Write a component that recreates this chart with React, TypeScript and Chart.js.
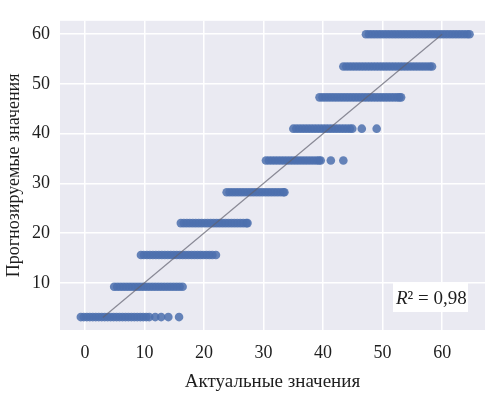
import React, { useEffect, useRef } from 'react';
import { Chart, registerables } from 'chart.js';

Chart.register(...registerables);

// Predicted value levels (one horizontal band each)
const predictedLevels = [3.1, 9.2, 15.6, 22.0, 28.2, 34.6, 41.0, 47.3, 53.5, 60.0];

// Actual values observed for each predicted level
const actualBand0 = [-0.7, -0.2, 0.3, 0.8, 1.3, 1.8, 2.3, 2.8, 3.3, 3.8, 4.3, 4.8, 5.3, 5.8, 6.3, 6.8, 7.3, 7.8, 8.3, 8.8, 9.3, 9.8, 10.3, 10.8, 11.8, 12.8, 14.0, 15.8];
const actualBand1 = [4.9, 5.4, 5.9, 6.4, 6.9, 7.4, 7.9, 8.4, 8.9, 9.4, 9.9, 10.4, 10.9, 11.4, 11.9, 12.4, 12.9, 13.4, 13.9, 14.4, 14.9, 15.4, 15.9, 16.4];
const actualBand2 = [9.4, 9.9, 10.4, 10.9, 11.4, 11.9, 12.4, 12.9, 13.4, 13.9, 14.4, 14.9, 15.4, 15.9, 16.4, 16.9, 17.4, 17.9, 18.4, 18.9, 19.4, 19.9, 20.4, 20.9, 21.4, 22.0];
const actualBand3 = [16.1, 16.6, 17.1, 17.6, 18.1, 18.6, 19.1, 19.6, 20.1, 20.6, 21.1, 21.6, 22.1, 22.6, 23.1, 23.6, 24.1, 24.6, 25.1, 25.6, 26.1, 26.6, 27.1, 27.3];
const actualBand4 = [23.8, 24.3, 24.8, 25.3, 25.8, 26.3, 26.8, 27.3, 27.8, 28.3, 28.8, 29.3, 29.8, 30.3, 30.8, 31.3, 31.8, 32.3, 32.8, 33.3, 33.5];
const actualBand5 = [30.4, 30.9, 31.4, 31.9, 32.4, 32.9, 33.4, 33.9, 34.4, 34.9, 35.4, 35.9, 36.4, 36.9, 37.4, 37.9, 38.4, 38.9, 39.3, 39.6, 41.3, 43.4];
const actualBand6 = [35.0, 35.5, 36.0, 36.5, 37.0, 37.5, 38.0, 38.5, 39.0, 39.5, 40.0, 40.5, 41.0, 41.5, 42.0, 42.5, 43.0, 43.5, 44.0, 44.5, 44.9, 46.5, 49.0];
const actualBand7 = [39.4, 39.9, 40.4, 40.9, 41.4, 41.9, 42.4, 42.9, 43.4, 43.9, 44.4, 44.9, 45.4, 45.9, 46.4, 46.9, 47.4, 47.9, 48.4, 48.9, 49.4, 49.9, 50.4, 50.9, 51.4, 51.9, 52.4, 52.8, 53.1];
const actualBand8 = [43.4, 43.9, 44.4, 44.9, 45.4, 45.9, 46.4, 46.9, 47.4, 47.9, 48.4, 48.9, 49.4, 49.9, 50.4, 50.9, 51.4, 51.9, 52.4, 52.9, 53.4, 53.9, 54.4, 54.9, 55.4, 55.9, 56.4, 56.9, 57.4, 57.9, 58.3];
const actualBand9 = [47.2, 47.7, 48.2, 48.7, 49.2, 49.7, 50.2, 50.7, 51.2, 51.7, 52.2, 52.7, 53.2, 53.7, 54.2, 54.7, 55.2, 55.7, 56.2, 56.7, 57.2, 57.7, 58.2, 58.7, 59.2, 59.7, 60.2, 60.7, 61.2, 61.7, 62.2, 62.7, 63.2, 63.7, 64.2, 64.6];

const actualBands = [
  actualBand0, actualBand1, actualBand2, actualBand3, actualBand4,
  actualBand5, actualBand6, actualBand7, actualBand8, actualBand9,
];

// Ideal diagonal (actual == predicted)
const diagonalEnds = [3, 60];

const xTickValues = [0, 10, 20, 30, 40, 50, 60];
const yTickValues = [10, 20, 30, 40, 50, 60];

const xTitle = 'Актуальные значения';
const yTitle = 'Прогнозируемые значения';
const r2Value = '0,98';

const FONT = '"Liberation Serif", "Times New Roman", serif';
const TEXT_COLOR = '#1e1e1e';

const bgPlugin = {
  id: 'plotBg',
  beforeDraw(chart: any) {
    const { ctx, chartArea: a } = chart;
    ctx.save();
    ctx.fillStyle = '#eaeaf2';
    ctx.fillRect(a.left, a.top, a.right - a.left, a.bottom - a.top);
    ctx.restore();
  },
};

const r2Plugin = {
  id: 'r2Box',
  afterDraw(chart: any) {
    const { ctx, chartArea: a } = chart;
    const bx = a.right - 92;
    const by = a.bottom - 48;
    ctx.save();
    ctx.fillStyle = '#ffffff';
    ctx.fillRect(bx, by, 75, 30);
    ctx.fillStyle = TEXT_COLOR;
    ctx.textBaseline = 'alphabetic';
    ctx.textAlign = 'left';
    ctx.font = `italic 19px ${FONT}`;
    const tx = bx + 3;
    const ty = by + 22;
    ctx.fillText('R', tx, ty);
    const w = ctx.measureText('R').width;
    ctx.font = `19px ${FONT}`;
    ctx.fillText('² = ' + r2Value, tx + w, ty);
    ctx.restore();
  },
};

export default function App() {
  const canvasRef = useRef<HTMLCanvasElement | null>(null);

  useEffect(() => {
    document.body.style.margin = '0';
    const canvas = canvasRef.current;
    if (!canvas) return;

    const points = actualBands.flatMap((xs, i) =>
      xs.map((x) => ({ x, y: predictedLevels[i] }))
    );

    const chart = new Chart(canvas, {
      type: 'scatter',
      data: {
        datasets: [
          {
            type: 'line',
            data: diagonalEnds.map((v) => ({ x: v, y: v })),
            borderColor: 'rgba(95,95,110,0.7)',
            borderWidth: 1.2,
            pointRadius: 0,
            fill: false,
            order: 0,
          } as any,
          {
            type: 'scatter',
            data: points,
            backgroundColor: 'rgba(76,112,174,0.85)',
            borderWidth: 0,
            pointRadius: 4.3,
            order: 1,
          },
        ],
      },
      options: {
        animation: false,
        responsive: false,
        maintainAspectRatio: false,
        layout: { padding: { left: 0, right: 8, top: 10, bottom: 0 } },
        plugins: {
          legend: { display: false },
          tooltip: { enabled: false },
        },
        scales: {
          x: {
            type: 'linear',
            min: -4.2,
            max: 67.2,
            afterBuildTicks: (s: any) => {
              s.ticks = xTickValues.map((v) => ({ value: v }));
            },
            afterFit: (s: any) => {
              s.height = 66;
            },
            grid: { color: '#ffffff', lineWidth: 1.5, drawTicks: false },
            border: { display: false },
            ticks: {
              font: { family: FONT, size: 18 },
              color: TEXT_COLOR,
              padding: 12,
              maxRotation: 0,
            },
            title: {
              display: true,
              text: xTitle,
              font: { family: FONT, size: 19 },
              color: TEXT_COLOR,
              padding: { top: 0, bottom: 3 },
            },
          },
          y: {
            type: 'linear',
            min: 0.5,
            max: 62.7,
            afterBuildTicks: (s: any) => {
              s.ticks = yTickValues.map((v) => ({ value: v }));
            },
            afterFit: (s: any) => {
              s.width = 60;
            },
            grid: { color: '#ffffff', lineWidth: 1.5, drawTicks: false },
            border: { display: false },
            ticks: {
              font: { family: FONT, size: 18 },
              color: TEXT_COLOR,
              padding: 10,
            },
            title: {
              display: true,
              text: yTitle,
              font: { family: FONT, size: 18 },
              color: TEXT_COLOR,
              padding: { top: 3, bottom: 0 },
            },
          },
        },
      },
      plugins: [bgPlugin, r2Plugin],
    });

    return () => chart.destroy();
  }, []);

  return (
    <div style={{ width: 493, height: 396 }}>
      <canvas ref={canvasRef} width={493} height={396} style={{ display: 'block' }} />
    </div>
  );
}
